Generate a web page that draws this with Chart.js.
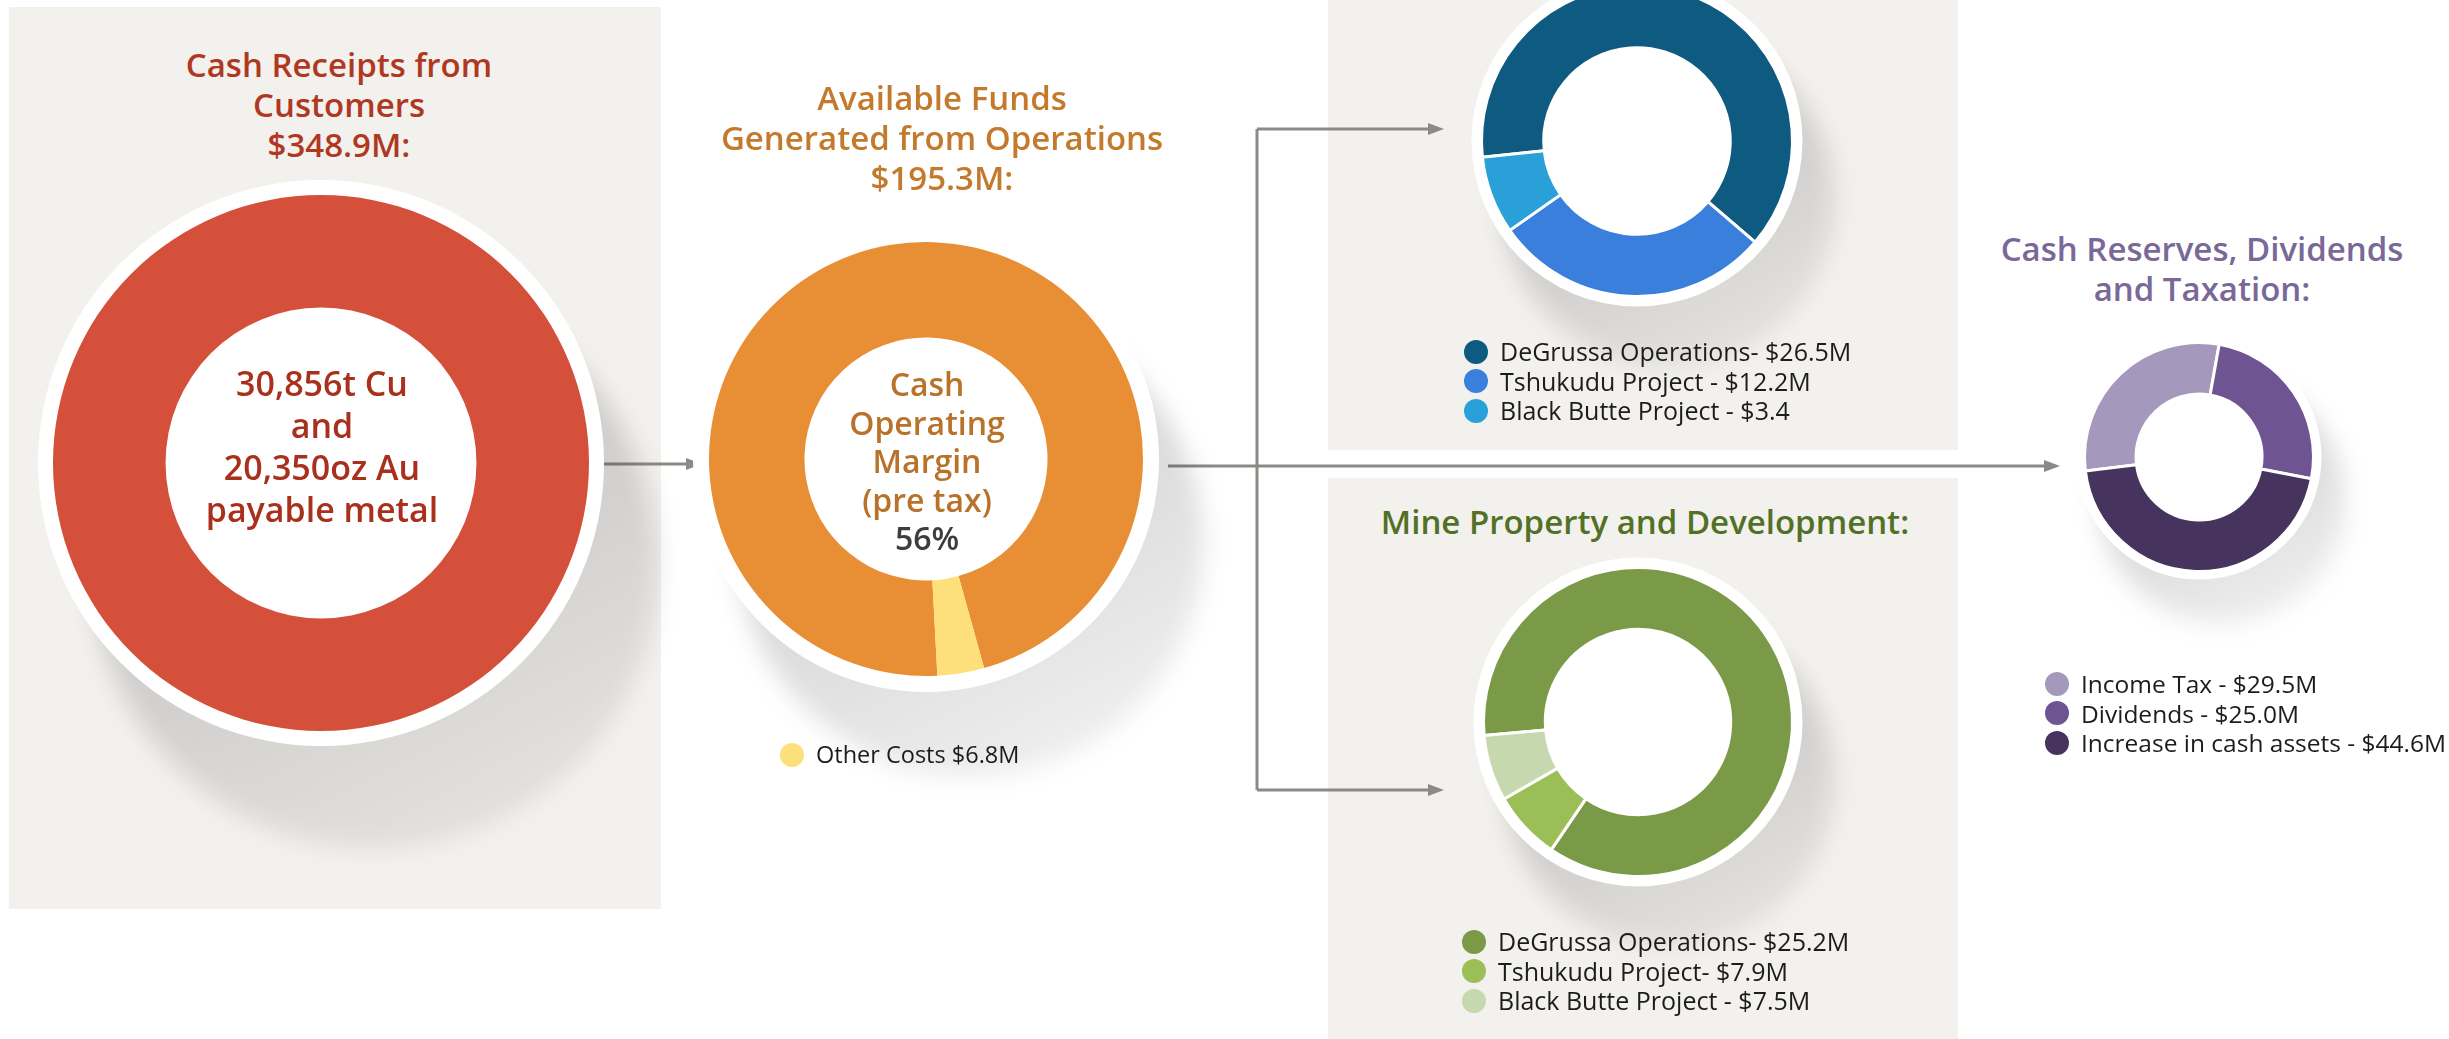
<!DOCTYPE html>
<html>
<head>
<meta charset="utf-8">
<script src="https://cdn.jsdelivr.net/npm/chart.js@4.4.0/dist/chart.umd.min.js"></script>
<style>
    html, body { margin: 0; padding: 0; background: #fff; }
    body { width: 2449px; height: 1039px; overflow: hidden; position: relative; font-family: "Open Sans", Lato, sans-serif; }
    .panel { position: absolute; background: #f3f1ee; }
    .box { position: absolute; }
    .title { position: absolute; text-align: center; font-weight: 600; font-size: 33px; line-height: 40px; white-space: nowrap; transform: translateX(-50%); }
    .center { position: absolute; text-align: center; font-weight: 600; font-size: 32px; white-space: nowrap; transform: translateX(-50%); }
    .legend { position: absolute; font-size: 25px; font-weight: 500; color: #1c1c1c; white-space: nowrap; }
    .legend div { height: 29.5px; line-height: 29.5px; display: flex; align-items: center; }
    .legend span.dot { display: inline-block; width: 24px; height: 24px; border-radius: 50%; margin-right: 12px; }
    svg { position: absolute; left: 0; top: 0; }
</style>
</head>
<body>
<div class="panel" style="left:9px;top:7px;width:652px;height:902px"></div>
<div class="panel" style="left:1328px;top:0px;width:630px;height:450px"></div>
<div class="panel" style="left:1328px;top:478px;width:630px;height:561px"></div>

<svg width="2449" height="1039">
    <g stroke="#8c8a85" stroke-width="3" fill="none">
        <line x1="598" y1="464" x2="690" y2="464" />
        <line x1="1168" y1="466" x2="2048" y2="466" />
        <line x1="1257" y1="129" x2="1257" y2="790" />
        <line x1="1257" y1="129" x2="1432" y2="129" />
        <line x1="1257" y1="790" x2="1432" y2="790" />
    </g>
    <g fill="#8c8a85">
        <polygon points="702,464 686,458 686,470" />
        <polygon points="2060,466 2044,460 2044,472" />
        <polygon points="1444,129 1428,123 1428,135" />
        <polygon points="1444,790 1428,784 1428,796" />
    </g>
</svg>

<div id="charts"></div>

<div class="title" style="left:339px;top:45px;color:#b0381f">Cash Receipts from<br>Customers<br>$348.9M:</div>
<div class="title" style="left:942px;top:78px;color:#c47a2c">Available Funds<br>Generated from Operations<br>$195.3M:</div>
<div class="title" style="left:1645px;top:502px;color:#527127">Mine Property and Development:</div>
<div class="title" style="left:2202px;top:229px;color:#7a6899">Cash Reserves, Dividends<br>and Taxation:</div>

<div class="center" style="left:322px;top:362px;line-height:42px;font-size:34px;color:#a8301c">30,856t Cu<br>and<br>20,350oz Au<br>payable metal</div>
<div class="center" style="left:927px;top:365px;line-height:38.5px;color:#b8722a">Cash<br>Operating<br>Margin<br>(pre tax)<br><span style="color:#3d3d3d">56%</span></div>

<div id="legendFunds" class="legend" style="left:780px;top:740px;font-size:23.5px"></div>
<div id="legendBlue" class="legend" style="left:1464px;top:337px"></div>
<div id="legendMine" class="legend" style="left:1462px;top:927px"></div>
<div id="legendReserve" class="legend" style="left:2045px;top:669px;font-size:24.5px"></div>

<script>
// cash receipts from customers ($M)
const receiptLabels = ["Cash Receipts from Customers"]
const receiptValues = [348.9]
const receiptColors = ["#d5503a"]

// available funds generated from operations ($M)
const fundLabels = ["Cash Operating Margin", "Other Costs $6.8M"]
const fundValues = [188.5, 6.8]
const fundColors = ["#e88f35", "#fde07a"]

// blue panel ($M)
const blueLabels = ["DeGrussa Operations- $26.5M", "Tshukudu Project - $12.2M", "Black Butte Project - $3.4"]
const blueValues = [26.5, 12.2, 3.4]
const blueColors = ["#0e5a80", "#3a7fdc", "#2aa0d9"]

// mine property and development - ring shares as drawn (%), amounts are in the labels
const mineLabels = ["DeGrussa Operations- $25.2M", "Tshukudu Project- $7.9M", "Black Butte Project - $7.5M"]
const mineValues = [85.8, 7.2, 6.9]
const mineColors = ["#7b9a47", "#9cbe57", "#c6d8ad"]

// cash reserves, dividends and taxation ($M)
const reserveLabels = ["Income Tax - $29.5M", "Dividends - $25.0M", "Increase in cash assets - $44.6M"]
const reserveValues = [29.5, 25.0, 44.6]
const reserveColors = ["#a498bd", "#6e5592", "#46345f"]

// white rim + soft drop shadow behind each ring
const backdrop = {
    id: 'backdrop',
    beforeDatasetsDraw(chart, args, opts) {
        const arc = chart.getDatasetMeta(0).data[0]
        if (!arc) return
        const ctx = chart.ctx
        const R = arc.outerRadius + opts.ring
        const sx = arc.x + R * 0.19
        const sy = arc.y + R * 0.36
        ctx.save()
        ctx.filter = 'blur(12px)'
        let grad = ctx.createLinearGradient(arc.x, arc.y, sx + R * 0.5, sy + R)
        grad.addColorStop(0, 'rgba(0,0,0,0.17)')
        grad.addColorStop(1, 'rgba(0,0,0,0.06)')
        ctx.fillStyle = grad
        ctx.beginPath()
        ctx.arc(sx, sy, R, 0, Math.PI * 2)
        ctx.fill()
        ctx.filter = 'none'
        ctx.fillStyle = '#fff'
        ctx.beginPath()
        ctx.arc(arc.x, arc.y, R, 0, Math.PI * 2)
        ctx.fill()
        ctx.restore()
    }
}

function makeDonut(cfg) {
    let padL = cfg.ring + 12
    let padT = cfg.ring + 12
    let padR = Math.round(cfg.r * 0.5) + 50
    let padB = Math.round(cfg.r * 0.75) + 50
    const box = document.createElement('div')
    box.className = 'box'
    box.style.left = (cfg.cx - cfg.r - padL) + 'px'
    box.style.top = (cfg.cy - cfg.r - padT) + 'px'
    box.style.width = (2 * cfg.r + padL + padR) + 'px'
    box.style.height = (2 * cfg.r + padT + padB) + 'px'
    document.getElementById('charts').appendChild(box)
    const canvas = document.createElement('canvas')
    box.appendChild(canvas)
    new Chart(canvas, {
        type: 'doughnut',
        data: {
            labels: cfg.labels,
            datasets: [{
                data: cfg.values,
                backgroundColor: cfg.colors,
                borderColor: '#ffffff',
                borderWidth: cfg.border
            }]
        },
        options: {
            responsive: true,
            maintainAspectRatio: false,
            animation: false,
            cutout: cfg.cutout,
            rotation: cfg.rotation,
            layout: { padding: { left: padL, top: padT, right: padR, bottom: padB } },
            plugins: {
                legend: { display: false },
                tooltip: { enabled: false },
                backdrop: { ring: cfg.ring }
            }
        },
        plugins: [backdrop]
    })
}

function makeLegend(id, labels, colors) {
    const el = document.getElementById(id)
    for (let i = 0; i < labels.length; i++) {
        const row = document.createElement('div')
        row.innerHTML = '<span class="dot" style="background:' + colors[i] + '"></span>' + labels[i]
        el.appendChild(row)
    }
}

makeDonut({ cx: 321, cy: 463, r: 268, ring: 15, cutout: '58%', rotation: 0, border: 0,
    labels: receiptLabels, values: receiptValues, colors: receiptColors })
makeDonut({ cx: 926, cy: 459, r: 217, ring: 16, cutout: '56%', rotation: 177, border: 0,
    labels: fundLabels, values: fundValues, colors: fundColors })
makeDonut({ cx: 1637, cy: 141, r: 157, ring: 10, cutout: '60%', rotation: 264, border: 3,
    labels: blueLabels, values: blueValues, colors: blueColors })
makeDonut({ cx: 1638, cy: 722, r: 156, ring: 10, cutout: '60%', rotation: 265, border: 3,
    labels: mineLabels, values: mineValues, colors: mineColors })
makeDonut({ cx: 2199, cy: 457, r: 116, ring: 8, cutout: '55%', rotation: 263, border: 3,
    labels: reserveLabels, values: reserveValues, colors: reserveColors })

makeLegend('legendFunds', [fundLabels[1]], [fundColors[1]])
makeLegend('legendBlue', blueLabels, blueColors)
makeLegend('legendMine', mineLabels, mineColors)
makeLegend('legendReserve', reserveLabels, reserveColors)
</script>
</body>
</html>
